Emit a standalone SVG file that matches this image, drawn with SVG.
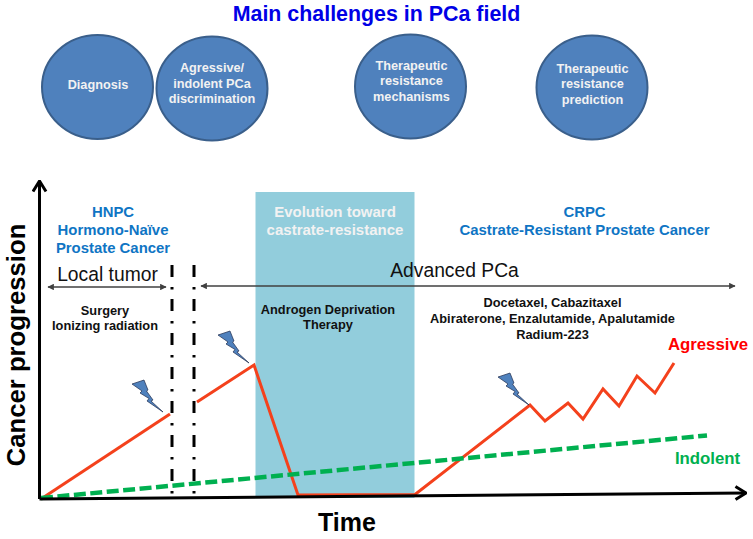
<svg xmlns="http://www.w3.org/2000/svg" width="753" height="539" viewBox="0 0 753 539">
<defs>
<marker id="sa" viewBox="0 0 10 10" refX="9" refY="5" markerWidth="6.500" markerHeight="6.500" markerUnits="userSpaceOnUse" orient="auto-start-reverse"><path d="M0 0L10 5L0 10z" fill="#404040"/></marker>
<marker id="open" viewBox="0 0 14 16" refX="12.500" refY="8" markerWidth="14" markerHeight="16" markerUnits="userSpaceOnUse" orient="auto"><path d="M2 1.500L12.500 8L2 14.500" fill="none" stroke="#000" stroke-width="3"/></marker>
<polygon id="bolt" points="0,4 12,0 16,10 14.500,11 21,20 19,21 31,32 15,21 17,18.500 8,13 10,11" fill="#4f81bd" stroke="#1f2d4d" stroke-width="0.7"/>
</defs>
<style>
text{font-family:"Liberation Sans",Arial,sans-serif;text-anchor:middle}
.c{fill:#4f81bd;stroke:#3a5f8b;stroke-width:2}
.w{fill:#f2f2f2;font-weight:700;font-size:12.700px}
.w2{fill:#f2f2f2;font-weight:700;font-size:15px}
.b{fill:#0f75c4;font-weight:700;font-size:14.900px}
.k{fill:#111;font-weight:700;font-size:12.800px}
.n{fill:#111;font-size:19.300px}
.ax{fill:#000;font-weight:700}
.red{fill:none;stroke:#f4411c;stroke-width:3;stroke-linejoin:miter}
.dd{fill:none;stroke:#000;stroke-width:3;stroke-dasharray:12 10 2.500 9.500}
.ar{fill:none;stroke:#404040;stroke-width:1.500}
</style>
<rect id="band" x="255.500" y="192" width="159" height="306" fill="#92cddc"/>
<text x="376.500" y="21" font-size="21.400" font-weight="700" fill="#0000e6">Main challenges in PCa field</text>
<g id="n1"><ellipse class="c" cx="97.500" cy="87" rx="55.500" ry="52"/><text class="w" x="98" y="89">Diagnosis</text></g>
<g id="n2"><ellipse class="c" cx="212" cy="88.500" rx="55.500" ry="52"/><text class="w"><tspan x="212" y="72">Agressive/</tspan><tspan x="212" y="87.500">indolent PCa</tspan><tspan x="212" y="103">discrimination</tspan></text></g>
<g id="n3"><ellipse class="c" cx="410.500" cy="86.500" rx="55.500" ry="52"/><text class="w"><tspan x="411.500" y="70">Therapeutic</tspan><tspan x="411.500" y="85">resistance</tspan><tspan x="411.500" y="100.500">mechanisms</tspan></text></g>
<g id="n4"><ellipse class="c" cx="592" cy="87.500" rx="55.500" ry="52"/><text class="w"><tspan x="592.500" y="72.500">Therapeutic</tspan><tspan x="592.500" y="88">resistance</tspan><tspan x="592.500" y="104">prediction</tspan></text></g>
<g id="labels">
<text class="b"><tspan x="113" y="217">HNPC</tspan><tspan x="113" y="235">Hormono-Naïve</tspan><tspan x="113" y="253">Prostate Cancer</tspan></text>
<text class="w2"><tspan x="335" y="217">Evolution toward</tspan><tspan x="335" y="235">castrate-resistance</tspan></text>
<text class="b"><tspan x="584.500" y="217">CRPC</tspan><tspan x="584.500" y="235">Castrate-Resistant Prostate Cancer</tspan></text>
<text class="n" x="107.500" y="281">Local tumor</text>
<text class="n" x="454.500" y="277">Advanced PCa</text>
<text class="k"><tspan x="105" y="315">Surgery</tspan><tspan x="105" y="330">Ionizing radiation</tspan></text>
<text class="k"><tspan x="328" y="314">Androgen Deprivation</tspan><tspan x="328" y="329">Therapy</tspan></text>
<text class="k"><tspan x="552.500" y="307">Docetaxel, Cabazitaxel</tspan><tspan x="552.500" y="323">Abiraterone, Enzalutamide, Apalutamide</tspan><tspan x="552.500" y="339">Radium-223</tspan></text>
<text x="708" y="350" font-size="16.800" font-weight="700" fill="#ff0000">Agressive</text>
<text x="707.500" y="464" font-size="16.800" font-weight="700" fill="#00b050">Indolent</text>
<text class="ax" x="347" y="531" font-size="25">Time</text>
<text class="ax" transform="translate(25 345) rotate(-90)" font-size="25.700">Cancer progression</text>
</g>
<g id="connectors">
<path class="dd" d="M172 265V494"/>
<path class="dd" d="M194 265V494"/>
<path class="ar" d="M48 287H166" marker-start="url(#sa)" marker-end="url(#sa)"/>
<path class="ar" d="M201 286H735" marker-start="url(#sa)" marker-end="url(#sa)"/>
<path class="red" d="M41 499L170 414"/>
<path class="red" d="M197 402L254 365L298 495L415 494.500L530 405L545 421L568 403L583 419L603 389L619 406L637 376L655 393L674 363"/>
<path d="M41 498L707 435.500" fill="none" stroke="#00b050" stroke-width="4.500" stroke-dasharray="12 4.500"/>
<path d="M39.500 499V181" fill="none" stroke="#000" stroke-width="3" marker-end="url(#open)"/>
<path d="M39.500 499L746 493" fill="none" stroke="#000" stroke-width="3" marker-end="url(#open)"/>
</g>
<g id="bolts">
<use href="#bolt" x="132" y="380"/>
<use href="#bolt" x="218" y="331"/>
<use href="#bolt" x="498" y="373"/>
</g>
</svg>
